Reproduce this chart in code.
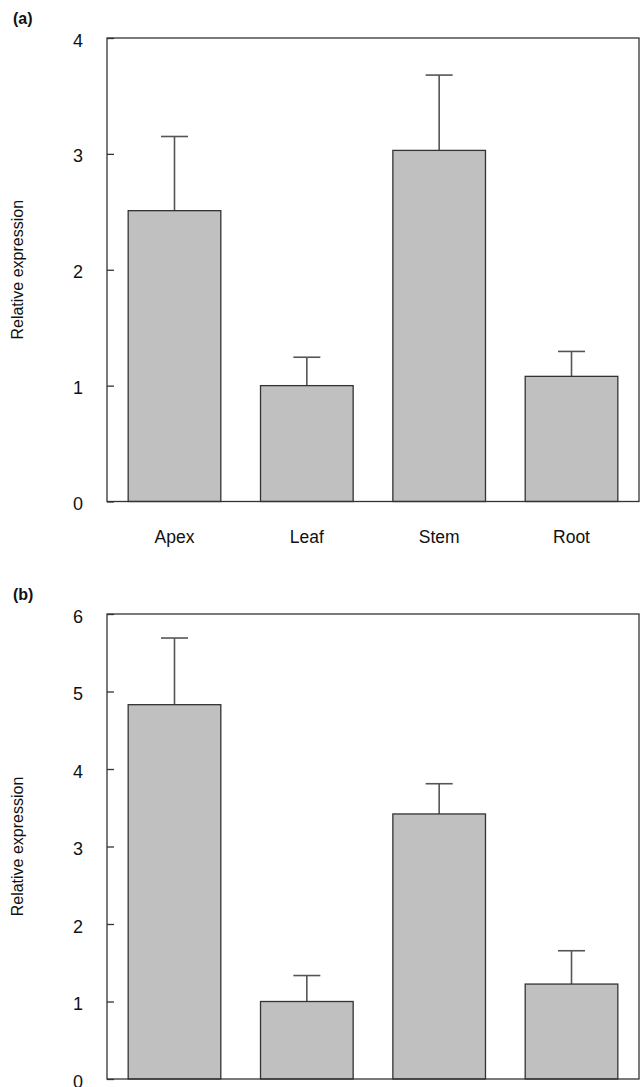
<!DOCTYPE html>
<html>
<head>
<meta charset="utf-8">
<script src="https://cdn.jsdelivr.net/npm/d3@7"></script>
<style>
  body { margin: 0; background: #fff; }
  svg { display: block; font-family: Arial, "Liberation Sans", sans-serif; }
</style>
</head>
<body>
<div id="chart"></div>
<script>
let width = 640
let height = 1087

// data
let tissues = ['Apex', 'Leaf', 'Stem', 'Root']
let meansA = [2.51, 1.0, 3.03, 1.08]
let errA = [0.64, 0.245, 0.65, 0.215]
let meansB = [4.83, 1.0, 3.42, 1.225]
let errB = [0.86, 0.335, 0.39, 0.43]
let ticksA = [0, 1, 2, 3, 4]
let ticksB = [0, 1, 2, 3, 4, 5, 6]

let svg = d3
  .select('#chart')
  .append('svg')
  .attr('width', width)
  .attr('height', height)

let stroke = '#333'

function panel(opts) {
  let g = svg.append('g')

  let x = d3
    .scaleBand()
    .domain(tissues)
    .range([107, 639])
    .paddingInner(0.3)
    .paddingOuter(0.16)

  let y = d3
    .scaleLinear()
    .domain([0, opts.max])
    .range([opts.bottom, opts.top])

  let rows = tissues.map((t, i) => ({ t: t, v: opts.means[i], e: opts.err[i] }))

  // error bars (upper only)
  g.selectAll('.err')
    .data(rows)
    .enter()
    .append('line')
    .attr('x1', d => x(d.t) + x.bandwidth() / 2)
    .attr('x2', d => x(d.t) + x.bandwidth() / 2)
    .attr('y1', d => y(d.v))
    .attr('y2', d => y(d.v + d.e))
    .attr('stroke', '#555')
    .attr('stroke-width', 1.6)

  g.selectAll('.cap')
    .data(rows)
    .enter()
    .append('line')
    .attr('x1', d => x(d.t) + x.bandwidth() / 2 - 13.5)
    .attr('x2', d => x(d.t) + x.bandwidth() / 2 + 13.5)
    .attr('y1', d => y(d.v + d.e))
    .attr('y2', d => y(d.v + d.e))
    .attr('stroke', '#555')
    .attr('stroke-width', 1.6)

  // bars
  g.selectAll('.bar')
    .data(rows)
    .enter()
    .append('rect')
    .attr('x', d => x(d.t))
    .attr('y', d => y(d.v))
    .attr('width', x.bandwidth())
    .attr('height', d => y(0) - y(d.v))
    .attr('fill', '#c0c0c0')
    .attr('stroke', stroke)
    .attr('stroke-width', 1.3)

  // frame
  g.append('rect')
    .attr('x', 107)
    .attr('y', y(opts.max))
    .attr('width', 639 - 107)
    .attr('height', y(0) - y(opts.max))
    .attr('fill', 'none')
    .attr('stroke', stroke)
    .attr('stroke-width', 1.3)

  // y axis with inward ticks
  let axis = d3
    .axisLeft(y)
    .tickValues(opts.ticks)
    .tickSizeInner(-7)
    .tickSizeOuter(0)
    .tickPadding(23)
    .tickFormat(d3.format('d'))

  let ax = g
    .append('g')
    .attr('transform', 'translate(107,0)')
    .call(axis)
  ax.select('.domain').remove()
  ax.selectAll('line').attr('stroke', stroke).attr('stroke-width', 1.3)
  ax.selectAll('text')
    .attr('font-size', 18)
    .attr('fill', '#111')
    .attr('text-anchor', 'middle')
    .attr('dx', -6)
    .attr('dy', '0.45em')

  // y label
  g.append('text')
    .attr('transform', `translate(23, ${(opts.top + opts.bottom) / 2}) rotate(-90)`)
    .attr('text-anchor', 'middle')
    .attr('font-size', 16)
    .attr('fill', '#111')
    .text('Relative expression')

  // panel letter
  g.append('text')
    .attr('x', 13)
    .attr('y', opts.top - 14)
    .attr('font-size', 16)
    .attr('font-weight', 'bold')
    .attr('fill', '#111')
    .text(opts.letter)

  if (opts.xlabels) {
    g.selectAll('.xl')
      .data(tissues)
      .enter()
      .append('text')
      .attr('x', d => x(d) + x.bandwidth() / 2)
      .attr('y', opts.bottom + 41)
      .attr('text-anchor', 'middle')
      .attr('font-size', 17.5)
      .attr('fill', '#111')
      .text(d => d)
  }
}

panel({ letter: '(a)', means: meansA, err: errA, ticks: ticksA, max: 4, top: 38, bottom: 501.5, xlabels: true })
panel({ letter: '(b)', means: meansB, err: errB, ticks: ticksB, max: 6, top: 614, bottom: 1079, xlabels: false })
</script>
</body>
</html>
